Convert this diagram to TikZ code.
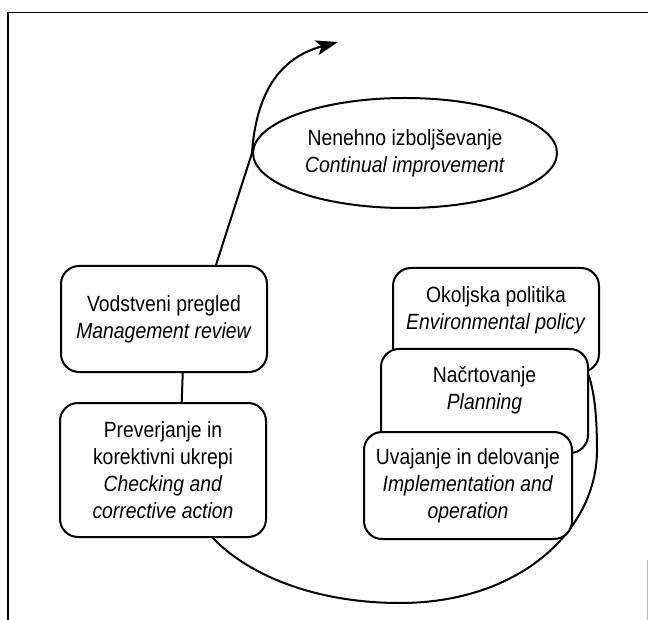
\documentclass[tikz,border=0pt]{standalone}
\usepackage{fontspec}
\setmainfont{Liberation Sans}[FakeStretch=0.88]
\usetikzlibrary{calc,shapes.geometric,arrows.meta}
\begin{document}
\begin{tikzpicture}[x=1pt,y=-1pt,
  box/.style={draw, line width=2pt, rounded corners=18pt, fill=white, inner sep=0pt},
  ellbox/.style={draw, ellipse, line width=2pt, fill=white, inner sep=0pt},
  txt/.style={align=center, font={\fontsize{22}{27}\selectfont}, inner sep=0pt},
  conn/.style={line width=2pt},
  framel/.style={line width=1.6pt}]
\useasboundingbox (0,0) rectangle (648,620);
% frame
\draw[framel] (8,620) -- (8,12.5) -- (648,12.5);
\draw[gray!60, line width=0.6pt] (647,560) -- (647,620);
% left column
\node[box, txt, minimum width=206pt, minimum height=106pt] (vod) at (164,319)
  {Vodstveni pregled\\\textit{Management review}};
\node[box, txt, minimum width=206pt, minimum height=134pt] (prev) at (163,470)
  {Preverjanje in\\korektivni ukrepi\\\textit{Checking and}\\\textit{corrective action}};
% ellipse
\node[ellbox, txt, minimum width=304pt, minimum height=110pt] (ell) at (405,153)
  {Nenehno izboljševanje\\\textit{Continual improvement}};
% right stack
\node[box, minimum width=206pt, minimum height=104pt] (okol) at (496,320) {};
\node[txt] (okoltxt) at (496,310) {Okoljska politika\\\textit{Environmental policy}};
% connectors
\coordinate (tip) at (338,42);
\draw[conn, -{Stealth[length=22pt,width=15pt,inset=5pt]}]
  ($(vod.north west)!0.75!(vod.north east)$) -- (ell.west)
  .. controls (257,80) and (290,55) .. (tip);
\draw[conn] ($(vod.south west)!0.59!(vod.south east)$) -- ($(prev.north west)!0.59!(prev.north east)$);
\draw[conn] ($(prev.south west)!0.74!(prev.south east)$)
  .. controls (245,572) and (310,603) .. (400,603)
  .. controls (520,603) and (597,530) .. (597,450)
  .. controls (597,410) and (593,385) .. ($(okol.south west)!0.94!(okol.south east)$);
\node[box, minimum width=207pt, minimum height=104pt] (nacrt) at (484.5,401) {};
\node[txt] (nacrttxt) at (484.5,390) {Načrtovanje\\\textit{Planning}};
\node[box, txt, minimum width=208pt, minimum height=107pt] (uvaj) at (468,485.5)
  {Uvajanje in delovanje\\\textit{Implementation and}\\\textit{operation}};
\end{tikzpicture}
\end{document}
